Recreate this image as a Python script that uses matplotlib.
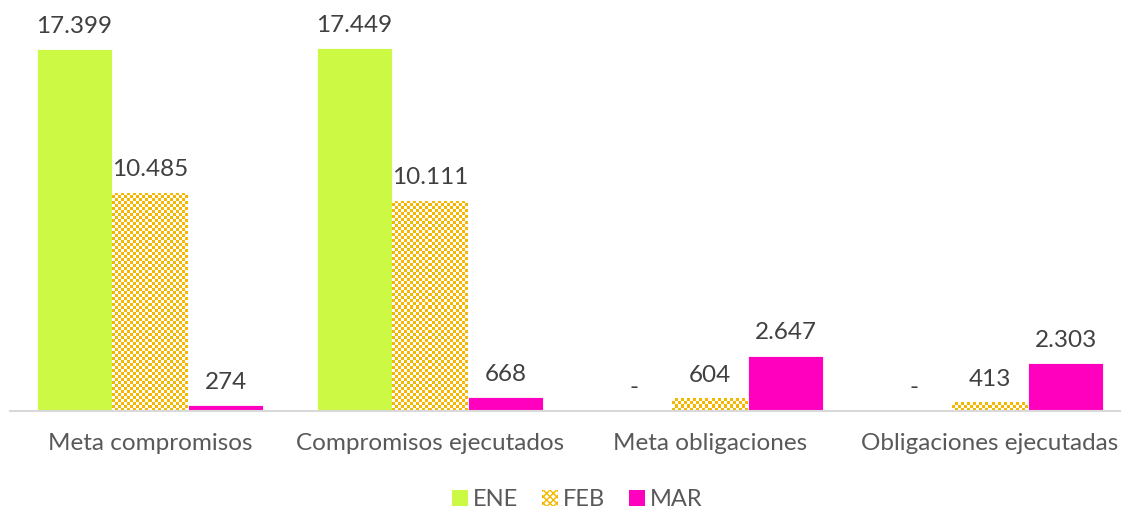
import numpy as np
import matplotlib
matplotlib.use("Agg")
import matplotlib.pyplot as plt
from matplotlib.patches import Patch

categories = ["Meta compromisos", "Compromisos ejecutados", "Meta obligaciones", "Obligaciones ejecutadas"]
series_names = ["ENE", "FEB", "MAR"]
ene = [17399, 17449, 0, 0]
feb = [10485, 10111, 604, 413]
mar = [274, 668, 2647, 2303]
values = [ene, feb, mar]
colors = ["#CCF943", "#F5B700", "#FF00BF"]

plt.rcParams['font.family'] = ['Lato', 'DejaVu Sans']
W, H = 1121, 513
fig = plt.figure(figsize=(W / 100, H / 100), dpi=100)
ax = fig.add_axes([10 / W, 1 - 411 / H, 1120 / W, 411 / H])

x = np.arange(len(categories))
bw = 0.27
ymax = 411 / 363 * 17449
ax.set_xlim(-0.5, 3.5)
ax.set_ylim(0, ymax)

def fmt(v):
    if v == 0:
        return "-"
    return f"{v:,}".replace(",", ".")

fig.canvas.draw()
for i, (name, vals, col) in enumerate(zip(series_names, values, colors)):
    pos = x + (i - 1) * bw
    if name == "FEB":
        bars = ax.bar(pos, vals, bw, color="white", edgecolor="none", zorder=2)
        for b in bars:
            # checkerboard fill clipped to bar
            x0, y0 = b.get_x(), b.get_y()
            w, h = b.get_width(), b.get_height()
            p0 = ax.transData.transform((x0, y0))
            p1 = ax.transData.transform((x0 + w, y0 + h))
            nx = max(1, int(round(abs(p1[0] - p0[0]) / 3)))
            ny = max(1, int(round(abs(p1[1] - p0[1]) / 3)))
            cb = (np.add.outer(np.arange(ny), np.arange(nx)) % 2).astype(float)
            rgb = np.ones((ny, nx, 4))
            c = matplotlib.colors.to_rgba(col)
            rgb[cb == 1] = c
            im = ax.imshow(rgb, extent=(x0, x0 + w, y0, y0 + h), aspect="auto",
                           interpolation="nearest", zorder=2.5)
            im.set_clip_path(b)
    else:
        bars = ax.bar(pos, vals, bw, color=col, edgecolor="white", linewidth=0.6, zorder=2)
    for p, v in zip(pos, vals):
        ax.annotate(fmt(v), (p, v), xytext=(0, 9), textcoords="offset points",
                    ha="center", va="bottom", fontsize=17.5, color="#404040")

ax.set_xticks(x)
ax.set_xticklabels(categories, fontsize=17.5, color="#595959")
ax.tick_params(axis="x", length=0, pad=16)
ax.set_yticks([])
for s in ["top", "right", "left"]:
    ax.spines[s].set_visible(False)
ax.spines["bottom"].set_color("#D9D9D9")
ax.spines["bottom"].set_linewidth(1.5)
ax.spines["bottom"].set_zorder(3)

handles = [Patch(facecolor=colors[0], edgecolor="none"),
           Patch(facecolor="white", edgecolor=colors[1], hatch="xxxxx", linewidth=0),
           Patch(facecolor=colors[2], edgecolor="none")]
leg = fig.legend(handles, series_names, loc="center", bbox_to_anchor=(577 / W, 1 - 500 / H),
                 ncol=3, frameon=False, fontsize=17, handlelength=0.7, handleheight=0.7,
                 handletextpad=0.2, columnspacing=1.0, labelcolor="#595959")

fig.savefig("out.png", dpi=100)
